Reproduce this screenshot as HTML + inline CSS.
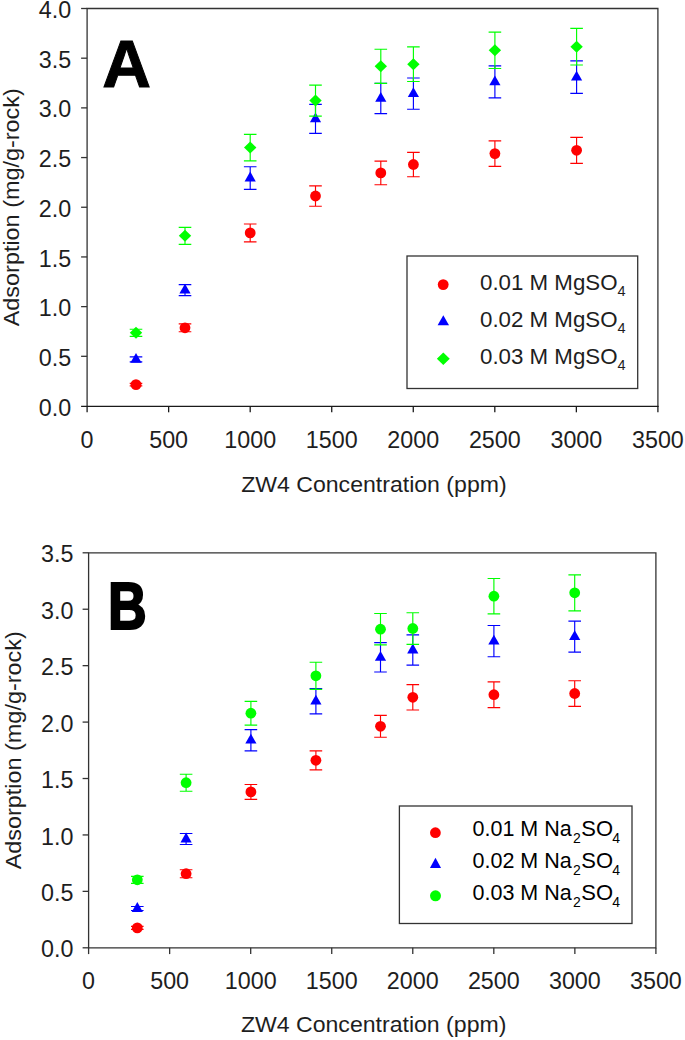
<!DOCTYPE html>
<html><head><meta charset="utf-8"><style>
html,body{margin:0;padding:0;background:#fff;}
body{width:685px;height:1040px;overflow:hidden;}
svg{display:block;}
text{font-family:"Liberation Sans", sans-serif;fill:#1e1e1e;}
.ar text{fill:#000;}
</style></head><body>
<svg width="685" height="1040" viewBox="0 0 685 1040">
<rect width="685" height="1040" fill="#fff"/>
<path d="M87.1 406.4V8.5H657.9V406.4" stroke="#333333" stroke-width="1.3" fill="none"/>
<path d="M81.1 406.4H658.55" stroke="#1a1a1a" stroke-width="1.2" fill="none"/>
<text x="71.10" y="415.60" text-anchor="end" font-size="23.3">0.0</text>
<path d="M81.10 356.31H87.1" stroke="#333333" stroke-width="1.3"/>
<text x="71.10" y="365.91" text-anchor="end" font-size="23.3">0.5</text>
<path d="M81.10 306.62H87.1" stroke="#333333" stroke-width="1.3"/>
<text x="71.10" y="316.23" text-anchor="end" font-size="23.3">1.0</text>
<path d="M81.10 256.94H87.1" stroke="#333333" stroke-width="1.3"/>
<text x="71.10" y="266.54" text-anchor="end" font-size="23.3">1.5</text>
<path d="M81.10 207.25H87.1" stroke="#333333" stroke-width="1.3"/>
<text x="71.10" y="216.85" text-anchor="end" font-size="23.3">2.0</text>
<path d="M81.10 157.56H87.1" stroke="#333333" stroke-width="1.3"/>
<text x="71.10" y="167.16" text-anchor="end" font-size="23.3">2.5</text>
<path d="M81.10 107.88H87.1" stroke="#333333" stroke-width="1.3"/>
<text x="71.10" y="117.47" text-anchor="end" font-size="23.3">3.0</text>
<path d="M81.10 58.19H87.1" stroke="#333333" stroke-width="1.3"/>
<text x="71.10" y="67.79" text-anchor="end" font-size="23.3">3.5</text>
<path d="M81.10 8.50H87.1" stroke="#333333" stroke-width="1.3"/>
<text x="71.10" y="18.10" text-anchor="end" font-size="23.3">4.0</text>
<path d="M87.10 406V412.3" stroke="#1a1a1a" stroke-width="1.3"/>
<text x="87.10" y="448.00" text-anchor="middle" font-size="23.3">0</text>
<path d="M168.64 406V412.3" stroke="#1a1a1a" stroke-width="1.3"/>
<text x="168.64" y="448.00" text-anchor="middle" font-size="23.3">500</text>
<path d="M250.19 406V412.3" stroke="#1a1a1a" stroke-width="1.3"/>
<text x="250.19" y="448.00" text-anchor="middle" font-size="23.3">1000</text>
<path d="M331.73 406V412.3" stroke="#1a1a1a" stroke-width="1.3"/>
<text x="331.73" y="448.00" text-anchor="middle" font-size="23.3">1500</text>
<path d="M413.27 406V412.3" stroke="#1a1a1a" stroke-width="1.3"/>
<text x="413.27" y="448.00" text-anchor="middle" font-size="23.3">2000</text>
<path d="M494.81 406V412.3" stroke="#1a1a1a" stroke-width="1.3"/>
<text x="494.81" y="448.00" text-anchor="middle" font-size="23.3">2500</text>
<path d="M576.36 406V412.3" stroke="#1a1a1a" stroke-width="1.3"/>
<text x="576.36" y="448.00" text-anchor="middle" font-size="23.3">3000</text>
<path d="M657.90 406V412.3" stroke="#1a1a1a" stroke-width="1.3"/>
<text x="657.90" y="448.00" text-anchor="middle" font-size="23.3">3500</text>
<path d="M136.00 383.40V385.80M129.70 383.40H142.30M129.70 385.80H142.30" stroke="#ff0000" stroke-width="1.15" fill="none"/>
<circle cx="136.00" cy="384.60" r="5.4" fill="#ff0000"/>
<path d="M185.00 323.90V331.70M178.70 323.90H191.30M178.70 331.70H191.30" stroke="#ff0000" stroke-width="1.15" fill="none"/>
<circle cx="185.00" cy="327.80" r="5.4" fill="#ff0000"/>
<path d="M250.20 224.00V241.80M243.90 224.00H256.50M243.90 241.80H256.50" stroke="#ff0000" stroke-width="1.15" fill="none"/>
<circle cx="250.20" cy="232.90" r="5.4" fill="#ff0000"/>
<path d="M315.50 185.80V206.20M309.20 185.80H321.80M309.20 206.20H321.80" stroke="#ff0000" stroke-width="1.15" fill="none"/>
<circle cx="315.50" cy="196.00" r="5.4" fill="#ff0000"/>
<path d="M380.80 161.10V184.70M374.50 161.10H387.10M374.50 184.70H387.10" stroke="#ff0000" stroke-width="1.15" fill="none"/>
<circle cx="380.80" cy="172.90" r="5.4" fill="#ff0000"/>
<path d="M413.40 152.30V176.70M407.10 152.30H419.70M407.10 176.70H419.70" stroke="#ff0000" stroke-width="1.15" fill="none"/>
<circle cx="413.40" cy="164.50" r="5.4" fill="#ff0000"/>
<path d="M494.90 140.90V166.30M488.60 140.90H501.20M488.60 166.30H501.20" stroke="#ff0000" stroke-width="1.15" fill="none"/>
<circle cx="494.90" cy="153.60" r="5.4" fill="#ff0000"/>
<path d="M576.60 137.30V163.30M570.30 137.30H582.90M570.30 163.30H582.90" stroke="#ff0000" stroke-width="1.15" fill="none"/>
<circle cx="576.60" cy="150.30" r="5.4" fill="#ff0000"/>
<path d="M136.00 356.90V361.90M129.70 356.90H142.30M129.70 361.90H142.30" stroke="#0000ff" stroke-width="1.15" fill="none"/>
<path d="M136.00 353.00L141.60 362.80L130.40 362.80Z" fill="#0000ff"/>
<path d="M185.00 284.60V295.60M178.70 284.60H191.30M178.70 295.60H191.30" stroke="#0000ff" stroke-width="1.15" fill="none"/>
<path d="M185.00 283.70L190.60 293.50L179.40 293.50Z" fill="#0000ff"/>
<path d="M250.20 166.70V189.30M243.90 166.70H256.50M243.90 189.30H256.50" stroke="#0000ff" stroke-width="1.15" fill="none"/>
<path d="M250.20 171.60L255.80 181.40L244.60 181.40Z" fill="#0000ff"/>
<path d="M315.50 104.30V133.30M309.20 104.30H321.80M309.20 133.30H321.80" stroke="#0000ff" stroke-width="1.15" fill="none"/>
<path d="M315.50 112.40L321.10 122.20L309.90 122.20Z" fill="#0000ff"/>
<path d="M380.80 83.20V113.60M374.50 83.20H387.10M374.50 113.60H387.10" stroke="#0000ff" stroke-width="1.15" fill="none"/>
<path d="M380.80 92.00L386.40 101.80L375.20 101.80Z" fill="#0000ff"/>
<path d="M413.40 78.00V109.20M407.10 78.00H419.70M407.10 109.20H419.70" stroke="#0000ff" stroke-width="1.15" fill="none"/>
<path d="M413.40 87.20L419.00 97.00L407.80 97.00Z" fill="#0000ff"/>
<path d="M494.90 65.90V97.90M488.60 65.90H501.20M488.60 97.90H501.20" stroke="#0000ff" stroke-width="1.15" fill="none"/>
<path d="M494.90 75.50L500.50 85.30L489.30 85.30Z" fill="#0000ff"/>
<path d="M576.60 60.80V93.40M570.30 60.80H582.90M570.30 93.40H582.90" stroke="#0000ff" stroke-width="1.15" fill="none"/>
<path d="M576.60 70.70L582.20 80.50L571.00 80.50Z" fill="#0000ff"/>
<path d="M136.00 329.20V336.40M129.70 329.20H142.30M129.70 336.40H142.30" stroke="#00ff00" stroke-width="1.15" fill="none"/>
<path d="M136.00 326.80L142.20 332.80L136.00 338.80L129.80 332.80Z" fill="#00ff00"/>
<path d="M185.00 227.30V244.30M178.70 227.30H191.30M178.70 244.30H191.30" stroke="#00ff00" stroke-width="1.15" fill="none"/>
<path d="M185.00 229.80L191.20 235.80L185.00 241.80L178.80 235.80Z" fill="#00ff00"/>
<path d="M250.20 134.30V160.90M243.90 134.30H256.50M243.90 160.90H256.50" stroke="#00ff00" stroke-width="1.15" fill="none"/>
<path d="M250.20 141.60L256.40 147.60L250.20 153.60L244.00 147.60Z" fill="#00ff00"/>
<path d="M315.50 85.10V116.10M309.20 85.10H321.80M309.20 116.10H321.80" stroke="#00ff00" stroke-width="1.15" fill="none"/>
<path d="M315.50 94.60L321.70 100.60L315.50 106.60L309.30 100.60Z" fill="#00ff00"/>
<path d="M380.80 49.20V83.40M374.50 49.20H387.10M374.50 83.40H387.10" stroke="#00ff00" stroke-width="1.15" fill="none"/>
<path d="M380.80 60.30L387.00 66.30L380.80 72.30L374.60 66.30Z" fill="#00ff00"/>
<path d="M413.40 46.90V81.50M407.10 46.90H419.70M407.10 81.50H419.70" stroke="#00ff00" stroke-width="1.15" fill="none"/>
<path d="M413.40 58.20L419.60 64.20L413.40 70.20L407.20 64.20Z" fill="#00ff00"/>
<path d="M494.90 32.10V68.50M488.60 32.10H501.20M488.60 68.50H501.20" stroke="#00ff00" stroke-width="1.15" fill="none"/>
<path d="M494.90 44.30L501.10 50.30L494.90 56.30L488.70 50.30Z" fill="#00ff00"/>
<path d="M576.60 28.40V65.00M570.30 28.40H582.90M570.30 65.00H582.90" stroke="#00ff00" stroke-width="1.15" fill="none"/>
<path d="M576.60 40.70L582.80 46.70L576.60 52.70L570.40 46.70Z" fill="#00ff00"/>
<text transform="translate(102.2 87.3) scale(1.0 1)" font-size="67.5" font-weight="bold" style="fill:#000;stroke:#000;stroke-width:1.0px;stroke-linejoin:miter">A</text>
<rect x="407" y="256" width="230.7" height="132.5" fill="#fff" stroke="#333333" stroke-width="1.3"/>
<circle cx="443.20" cy="284.60" r="5.4" fill="#ff0000"/><path d="M443.30 315.20L449.00 325.20L437.60 325.20Z" fill="#0000ff"/><path d="M443.30 352.60L449.75 358.80L443.30 365.00L436.85 358.80Z" fill="#00ff00"/><text x="480" y="289.9" font-size="22.3">0.01 M MgSO</text><text x="617.6" y="295.9" font-size="14.5">4</text><text x="480" y="327.0" font-size="22.3">0.02 M MgSO</text><text x="617.6" y="333.0" font-size="14.5">4</text><text x="480" y="364.3" font-size="22.3">0.03 M MgSO</text><text x="617.6" y="370.3" font-size="14.5">4</text>
<text transform="translate(18.5 207.25) rotate(-90)" text-anchor="middle" font-size="22" textLength="238" lengthAdjust="spacingAndGlyphs">Adsorption (mg/g-rock)</text>
<text x="373.9" y="492.4" text-anchor="middle" font-size="22" textLength="265.5" lengthAdjust="spacingAndGlyphs">ZW4 Concentration (ppm)</text>
<path d="M88.6 552.8H655.9V947.8H88.6Z" stroke="#333333" stroke-width="1.3" fill="none"/>
<path d="M82.60 947.80H88.6" stroke="#333333" stroke-width="1.3"/>
<text x="73.40" y="957.40" text-anchor="end" font-size="23.3">0.0</text>
<path d="M82.60 891.37H88.6" stroke="#333333" stroke-width="1.3"/>
<text x="73.40" y="900.97" text-anchor="end" font-size="23.3">0.5</text>
<path d="M82.60 834.94H88.6" stroke="#333333" stroke-width="1.3"/>
<text x="73.40" y="844.54" text-anchor="end" font-size="23.3">1.0</text>
<path d="M82.60 778.51H88.6" stroke="#333333" stroke-width="1.3"/>
<text x="73.40" y="788.11" text-anchor="end" font-size="23.3">1.5</text>
<path d="M82.60 722.09H88.6" stroke="#333333" stroke-width="1.3"/>
<text x="73.40" y="731.69" text-anchor="end" font-size="23.3">2.0</text>
<path d="M82.60 665.66H88.6" stroke="#333333" stroke-width="1.3"/>
<text x="73.40" y="675.26" text-anchor="end" font-size="23.3">2.5</text>
<path d="M82.60 609.23H88.6" stroke="#333333" stroke-width="1.3"/>
<text x="73.40" y="618.83" text-anchor="end" font-size="23.3">3.0</text>
<path d="M82.60 552.80H88.6" stroke="#333333" stroke-width="1.3"/>
<text x="73.40" y="562.40" text-anchor="end" font-size="23.3">3.5</text>
<path d="M88.60 947.8V954.0999999999999" stroke="#333333" stroke-width="1.3"/>
<text x="88.60" y="988.60" text-anchor="middle" font-size="23.3">0</text>
<path d="M169.64 947.8V954.0999999999999" stroke="#333333" stroke-width="1.3"/>
<text x="169.64" y="988.60" text-anchor="middle" font-size="23.3">500</text>
<path d="M250.69 947.8V954.0999999999999" stroke="#333333" stroke-width="1.3"/>
<text x="250.69" y="988.60" text-anchor="middle" font-size="23.3">1000</text>
<path d="M331.73 947.8V954.0999999999999" stroke="#333333" stroke-width="1.3"/>
<text x="331.73" y="988.60" text-anchor="middle" font-size="23.3">1500</text>
<path d="M412.77 947.8V954.0999999999999" stroke="#333333" stroke-width="1.3"/>
<text x="412.77" y="988.60" text-anchor="middle" font-size="23.3">2000</text>
<path d="M493.81 947.8V954.0999999999999" stroke="#333333" stroke-width="1.3"/>
<text x="493.81" y="988.60" text-anchor="middle" font-size="23.3">2500</text>
<path d="M574.86 947.8V954.0999999999999" stroke="#333333" stroke-width="1.3"/>
<text x="574.86" y="988.60" text-anchor="middle" font-size="23.3">3000</text>
<path d="M655.90 947.8V954.0999999999999" stroke="#333333" stroke-width="1.3"/>
<text x="655.90" y="988.60" text-anchor="middle" font-size="23.3">3500</text>
<path d="M137.30 926.40V929.40M131.00 926.40H143.60M131.00 929.40H143.60" stroke="#ff0000" stroke-width="1.15" fill="none"/>
<circle cx="137.30" cy="927.90" r="5.4" fill="#ff0000"/>
<path d="M186.10 869.70V877.70M179.80 869.70H192.40M179.80 877.70H192.40" stroke="#ff0000" stroke-width="1.15" fill="none"/>
<circle cx="186.10" cy="873.70" r="5.4" fill="#ff0000"/>
<path d="M250.90 784.50V799.30M244.60 784.50H257.20M244.60 799.30H257.20" stroke="#ff0000" stroke-width="1.15" fill="none"/>
<circle cx="250.90" cy="791.90" r="5.4" fill="#ff0000"/>
<path d="M315.90 750.80V769.80M309.60 750.80H322.20M309.60 769.80H322.20" stroke="#ff0000" stroke-width="1.15" fill="none"/>
<circle cx="315.90" cy="760.30" r="5.4" fill="#ff0000"/>
<path d="M380.50 715.40V737.20M374.20 715.40H386.80M374.20 737.20H386.80" stroke="#ff0000" stroke-width="1.15" fill="none"/>
<circle cx="380.50" cy="726.30" r="5.4" fill="#ff0000"/>
<path d="M412.80 684.60V710.00M406.50 684.60H419.10M406.50 710.00H419.10" stroke="#ff0000" stroke-width="1.15" fill="none"/>
<circle cx="412.80" cy="697.30" r="5.4" fill="#ff0000"/>
<path d="M493.90 681.80V707.60M487.60 681.80H500.20M487.60 707.60H500.20" stroke="#ff0000" stroke-width="1.15" fill="none"/>
<circle cx="493.90" cy="694.70" r="5.4" fill="#ff0000"/>
<path d="M574.70 680.70V706.30M568.40 680.70H581.00M568.40 706.30H581.00" stroke="#ff0000" stroke-width="1.15" fill="none"/>
<circle cx="574.70" cy="693.50" r="5.4" fill="#ff0000"/>
<path d="M137.30 906.50V910.50M131.00 906.50H143.60M131.00 910.50H143.60" stroke="#0000ff" stroke-width="1.15" fill="none"/>
<path d="M137.30 902.10L142.90 911.90L131.70 911.90Z" fill="#0000ff"/>
<path d="M186.10 833.50V844.50M179.80 833.50H192.40M179.80 844.50H192.40" stroke="#0000ff" stroke-width="1.15" fill="none"/>
<path d="M186.10 832.60L191.70 842.40L180.50 842.40Z" fill="#0000ff"/>
<path d="M250.90 729.60V750.80M244.60 729.60H257.20M244.60 750.80H257.20" stroke="#0000ff" stroke-width="1.15" fill="none"/>
<path d="M250.90 733.80L256.50 743.60L245.30 743.60Z" fill="#0000ff"/>
<path d="M315.90 688.50V713.90M309.60 688.50H322.20M309.60 713.90H322.20" stroke="#0000ff" stroke-width="1.15" fill="none"/>
<path d="M315.90 694.80L321.50 704.60L310.30 704.60Z" fill="#0000ff"/>
<path d="M380.50 642.60V672.00M374.20 642.60H386.80M374.20 672.00H386.80" stroke="#0000ff" stroke-width="1.15" fill="none"/>
<path d="M380.50 650.90L386.10 660.70L374.90 660.70Z" fill="#0000ff"/>
<path d="M412.80 634.90V665.10M406.50 634.90H419.10M406.50 665.10H419.10" stroke="#0000ff" stroke-width="1.15" fill="none"/>
<path d="M412.80 643.60L418.40 653.40L407.20 653.40Z" fill="#0000ff"/>
<path d="M493.90 625.50V656.70M487.60 625.50H500.20M487.60 656.70H500.20" stroke="#0000ff" stroke-width="1.15" fill="none"/>
<path d="M493.90 634.70L499.50 644.50L488.30 644.50Z" fill="#0000ff"/>
<path d="M574.70 621.10V652.10M568.40 621.10H581.00M568.40 652.10H581.00" stroke="#0000ff" stroke-width="1.15" fill="none"/>
<path d="M574.70 630.20L580.30 640.00L569.10 640.00Z" fill="#0000ff"/>
<path d="M137.30 876.30V883.30M131.00 876.30H143.60M131.00 883.30H143.60" stroke="#00ff00" stroke-width="1.15" fill="none"/>
<circle cx="137.30" cy="879.80" r="5.4" fill="#00ff00"/>
<path d="M186.10 774.20V791.20M179.80 774.20H192.40M179.80 791.20H192.40" stroke="#00ff00" stroke-width="1.15" fill="none"/>
<circle cx="186.10" cy="782.70" r="5.4" fill="#00ff00"/>
<path d="M250.90 701.30V725.10M244.60 701.30H257.20M244.60 725.10H257.20" stroke="#00ff00" stroke-width="1.15" fill="none"/>
<circle cx="250.90" cy="713.20" r="5.4" fill="#00ff00"/>
<path d="M315.90 662.20V689.40M309.60 662.20H322.20M309.60 689.40H322.20" stroke="#00ff00" stroke-width="1.15" fill="none"/>
<circle cx="315.90" cy="675.80" r="5.4" fill="#00ff00"/>
<path d="M380.50 613.50V644.90M374.20 613.50H386.80M374.20 644.90H386.80" stroke="#00ff00" stroke-width="1.15" fill="none"/>
<circle cx="380.50" cy="629.20" r="5.4" fill="#00ff00"/>
<path d="M412.80 612.70V644.30M406.50 612.70H419.10M406.50 644.30H419.10" stroke="#00ff00" stroke-width="1.15" fill="none"/>
<circle cx="412.80" cy="628.50" r="5.4" fill="#00ff00"/>
<path d="M493.90 578.50V613.90M487.60 578.50H500.20M487.60 613.90H500.20" stroke="#00ff00" stroke-width="1.15" fill="none"/>
<circle cx="493.90" cy="596.20" r="5.4" fill="#00ff00"/>
<path d="M574.70 574.80V610.80M568.40 574.80H581.00M568.40 610.80H581.00" stroke="#00ff00" stroke-width="1.15" fill="none"/>
<circle cx="574.70" cy="592.80" r="5.4" fill="#00ff00"/>
<text transform="translate(108 628.5) scale(0.8 1)" font-size="67" font-weight="bold" style="fill:#000;stroke:#000;stroke-width:2.2px;stroke-linejoin:miter">B</text>
<rect x="399.4" y="806" width="232.6" height="117.5" fill="#fff" stroke="#333333" stroke-width="1.3"/>
<circle cx="435.40" cy="832.70" r="5.4" fill="#ff0000"/><path d="M435.50 857.75L441.05 868.05L429.95 868.05Z" fill="#0000ff"/><circle cx="435.50" cy="895.80" r="5.5" fill="#00ff00"/><g class="ar"><text x="472.5" y="836.4" font-size="21.5">0.01 M Na</text><text x="573" y="843.4" font-size="14">2</text><text x="581.3" y="836.4" font-size="21.5" textLength="31.8" lengthAdjust="spacingAndGlyphs">SO</text><text x="612.2" y="843.4" font-size="14">4</text></g><g class="ar"><text x="472.5" y="868.0" font-size="21.5">0.02 M Na</text><text x="573" y="875.0" font-size="14">2</text><text x="581.3" y="868.0" font-size="21.5" textLength="31.8" lengthAdjust="spacingAndGlyphs">SO</text><text x="612.2" y="875.0" font-size="14">4</text></g><g class="ar"><text x="472.5" y="899.6" font-size="21.5">0.03 M Na</text><text x="573" y="906.6" font-size="14">2</text><text x="581.3" y="899.6" font-size="21.5" textLength="31.8" lengthAdjust="spacingAndGlyphs">SO</text><text x="612.2" y="906.6" font-size="14">4</text></g>
<text transform="translate(21 750.3) rotate(-90)" text-anchor="middle" font-size="22" textLength="238" lengthAdjust="spacingAndGlyphs">Adsorption (mg/g-rock)</text>
<text x="373.65" y="1032.4" text-anchor="middle" font-size="22" textLength="265.5" lengthAdjust="spacingAndGlyphs">ZW4 Concentration (ppm)</text>
</svg>
</body></html>
